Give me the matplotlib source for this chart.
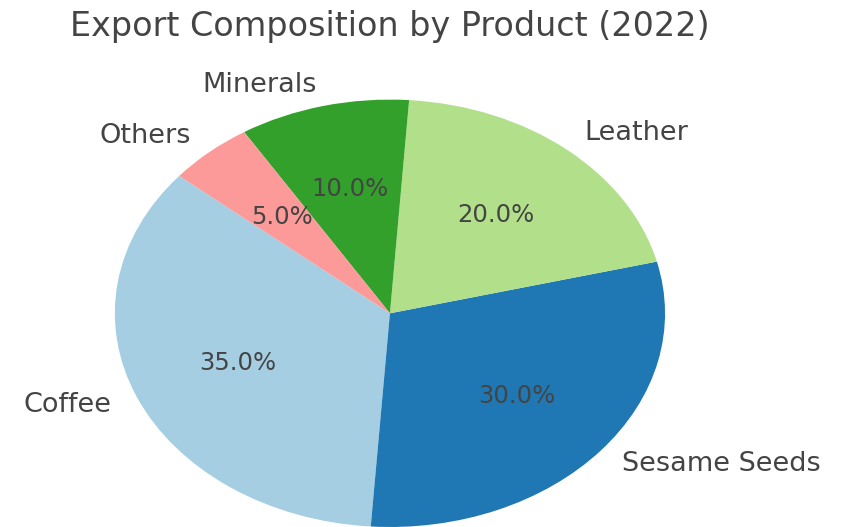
import matplotlib.pyplot as plt

# export shares by product, 2022
products = ['Coffee', 'Sesame Seeds', 'Leather', 'Minerals', 'Others']
shares = [35, 30, 20, 10, 5]

cmap = plt.get_cmap('Paired')
colors = [cmap(0), cmap(1), cmap(2), cmap(3), cmap(4)]

fig = plt.figure(figsize=(8.57, 5.27), dpi=100)
ax = fig.add_axes([0.134, 0.0, 0.642, 0.811])

wedges, texts, autotexts = ax.pie(
    shares, labels=products, colors=colors, autopct='%1.1f%%',
    startangle=140, textprops={'fontsize': 19.5, 'color': '#444444'})
for t in autotexts:
    t.set_fontsize(17.5)

# let the pie fill the (wider than tall) axes box
ax.set_aspect('auto')
ax.set_xlim(-1, 1)
ax.set_ylim(-1, 1)

ax.set_title('Export Composition by Product (2022)', fontsize=24,
             color='#444444', pad=46)

plt.savefig('out.png', dpi=100)
